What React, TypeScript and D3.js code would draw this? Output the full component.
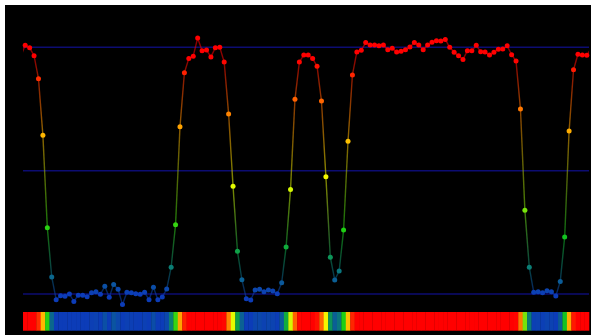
import React from "react";
import * as d3 from "d3";

// signal level per sample (0 = bottom guide line, 1 = top guide line)
const levels: number[] = [
  1.008, 0.998, 0.966, 0.873, 0.643, 0.269, 0.069, -0.023, -0.007, -0.009,
  0.0, -0.03, -0.005, -0.005, -0.011, 0.005, 0.009, -0.001, 0.031, -0.013,
  0.039, 0.019, -0.043, 0.007, 0.005, 0.001, -0.001, 0.007, -0.023, 0.027,
  -0.023, -0.012, 0.02, 0.108, 0.281, 0.678, 0.897, 0.955, 0.964, 1.038,
  0.986, 0.989, 0.961, 0.998, 1.0, 0.94, 0.73, 0.437, 0.173, 0.058,
  -0.019, -0.024, 0.016, 0.019, 0.009, 0.016, 0.012, 0.001, 0.046, 0.191,
  0.424, 0.789, 0.94, 0.969, 0.969, 0.955, 0.923, 0.782, 0.475, 0.149,
  0.057, 0.093, 0.259, 0.619, 0.888, 0.981, 0.988, 1.019, 1.009, 1.009,
  1.006, 1.009, 0.99, 0.996, 0.981, 0.984, 0.99, 1.001, 1.019, 1.009,
  0.99, 1.009, 1.02, 1.027, 1.026, 1.032, 1.0, 0.98, 0.966, 0.951,
  0.986, 0.986, 1.008, 0.982, 0.981, 0.969, 0.98, 0.992, 0.993, 1.006,
  0.97, 0.944, 0.75, 0.339, 0.108, 0.007, 0.009, 0.005, 0.013, 0.009,
  -0.008, 0.051, 0.231, 0.661, 0.909, 0.972, 0.969, 0.968,
];
// samples just outside the visible window (only their line stubs show)
const leadLevel = 0.965;
const trailLevel = 0.995;

const guideLevels = [0, 0.5, 1];

const colorStops = [0, 0.1, 0.25, 0.45, 0.65, 0.8, 0.95];
const colorRange = ["#0c3cb8", "#0a7a7a", "#14cc14", "#f2ff00", "#ffb400", "#ff5a00", "#ff0000"];

const W = 586;
const H = 330;
const plotLeft = 18;
const plotRight = 584;
const stripTop = 307;
const stripBottom = 325.7;

export default function App() {
  const n = levels.length;
  const x = d3.scaleLinear().domain([-0.5, n - 0.5]).range([plotLeft, plotRight]);
  const y = d3.scaleLinear().domain([0, 1]).range([289, 42.3]);
  const color = d3
    .scaleLinear<string>()
    .domain(colorStops)
    .range(colorRange)
    .clamp(true);

  // full series incl. the clipped neighbours, indexed from -1
  const pts = [leadLevel, ...levels, trailLevel].map((v, k) => ({ i: k - 1, v }));
  const segs = d3.pairs(pts);

  return (
    <svg
      width={W}
      height={H}
      style={{ position: "absolute", left: 5, top: 5, display: "block" }}
    >
      <defs>
        <clipPath id="plot-clip">
          <rect x={plotLeft} y={0} width={plotRight - plotLeft} height={H} />
        </clipPath>
        {segs.map(([a, b], k) => (
          <linearGradient
            key={k}
            id={`seg-${k}`}
            gradientUnits="userSpaceOnUse"
            x1={x(a.i)}
            y1={y(a.v)}
            x2={x(b.i)}
            y2={y(b.v)}
          >
            <stop offset="0%" stopColor={color(a.v)} />
            <stop offset="100%" stopColor={color(b.v)} />
          </linearGradient>
        ))}
      </defs>

      <rect width={W} height={H} fill="#000" />

      {guideLevels.map((g) => (
        <line
          key={g}
          x1={plotLeft}
          x2={plotRight}
          y1={y(g)}
          y2={y(g)}
          stroke="#0c0c72"
          strokeWidth={1.5}
        />
      ))}

      <g clipPath="url(#plot-clip)">
        {segs.map(([a, b], k) => (
          <line
            key={k}
            x1={x(a.i)}
            y1={y(a.v)}
            x2={x(b.i)}
            y2={y(b.v)}
            stroke={`url(#seg-${k})`}
            strokeWidth={1.4}
            strokeOpacity={0.55}
          />
        ))}
      </g>

      {levels.map((v, i) => (
        <circle key={i} cx={x(i)} cy={y(v)} r={2.5} fill={color(v)} />
      ))}

      {levels.map((v, i) => (
        <rect
          key={i}
          x={x(i - 0.5)}
          y={stripTop}
          width={x(i + 0.5) - x(i - 0.5) + 0.3}
          height={stripBottom - stripTop}
          fill={color(v)}
        />
      ))}
    </svg>
  );
}
